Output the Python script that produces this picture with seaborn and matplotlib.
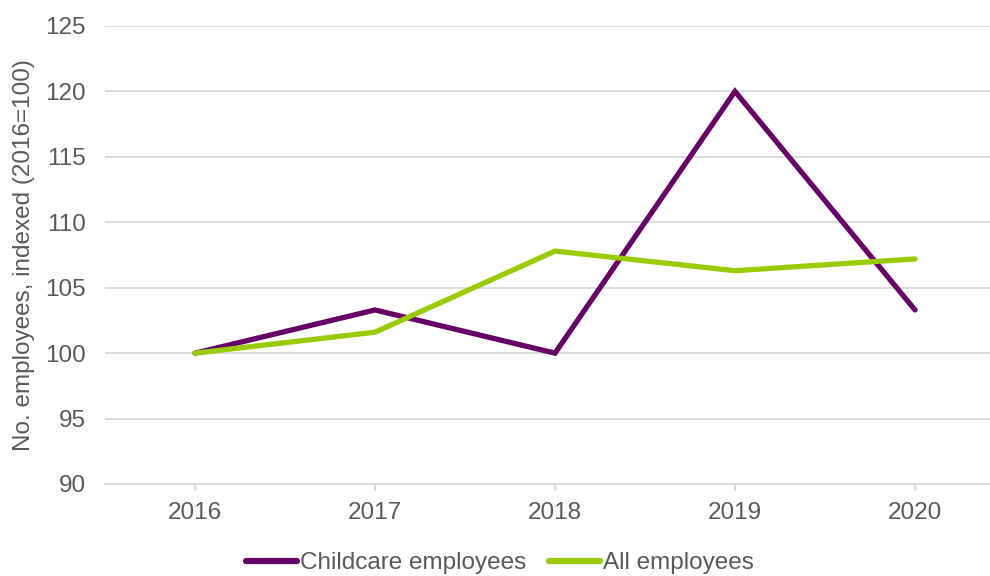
import matplotlib
matplotlib.use("Agg")
import matplotlib.pyplot as plt
import seaborn as sns
import pandas as pd

years = ["2016", "2017", "2018", "2019", "2020"]
childcare = [100, 103.3, 100, 120, 103.3]
all_employees = [100, 101.6, 107.8, 106.3, 107.2]
series_names = ["Childcare employees", "All employees"]
y_ticks = [90, 95, 100, 105, 110, 115, 120, 125]

sns.set_theme(style="white")
plt.rcParams["font.family"] = ["Liberation Sans", "DejaVu Sans"]

text_color = "#595959"
grid_color = "#D9D9D9"
palette = {"Childcare employees": "#660066", "All employees": "#99CC00"}

df = pd.DataFrame({
    "Year": years * 2,
    "Index": childcare + all_employees,
    "Series": [series_names[0]] * len(years) + [series_names[1]] * len(years),
})

fig = plt.figure(figsize=(9.9, 5.76), dpi=100)
ax = fig.add_axes([105 / 990, 92 / 576, 900 / 990, 458 / 576])

sns.lineplot(data=df, x="Year", y="Index", hue="Series", palette=palette,
             linewidth=3.8, ax=ax, sort=False, legend=False,
             solid_capstyle="round", solid_joinstyle="miter")

ax.set_xlim(-0.5, 4.5)
ax.set_ylim(90, 125)
ax.set_yticks(y_ticks)
ax.set_yticklabels([str(t) for t in y_ticks])
ax.grid(axis="y", color=grid_color, linewidth=1.3)
ax.set_axisbelow(True)

for side in ["top", "right", "left"]:
    ax.spines[side].set_visible(False)
ax.spines["bottom"].set_color(grid_color)
ax.spines["bottom"].set_linewidth(1.3)

ax.tick_params(axis="x", colors=text_color, labelsize=17.5, length=5,
               width=1.3, color=grid_color, pad=8, direction="out", bottom=True)
ax.tick_params(axis="y", colors=text_color, labelsize=17.5, length=0, pad=14)

ax.set_xlabel("")
ax.set_ylabel("No. employees, indexed (2016=100)", color=text_color,
              fontsize=17.5)
ax.yaxis.set_label_coords(-0.078, 0.5)

handles = [plt.Line2D([0], [0], color=palette[n], linewidth=4.5,
                      solid_capstyle="round") for n in series_names]
fig.legend(handles, series_names, loc="center", bbox_to_anchor=(0.505, 0.022),
           ncol=2, frameon=False, fontsize=17.5, labelcolor=text_color,
           handlelength=2.1, handletextpad=0.15, columnspacing=0.9)

fig.savefig("out.png", dpi=100, facecolor="white")
